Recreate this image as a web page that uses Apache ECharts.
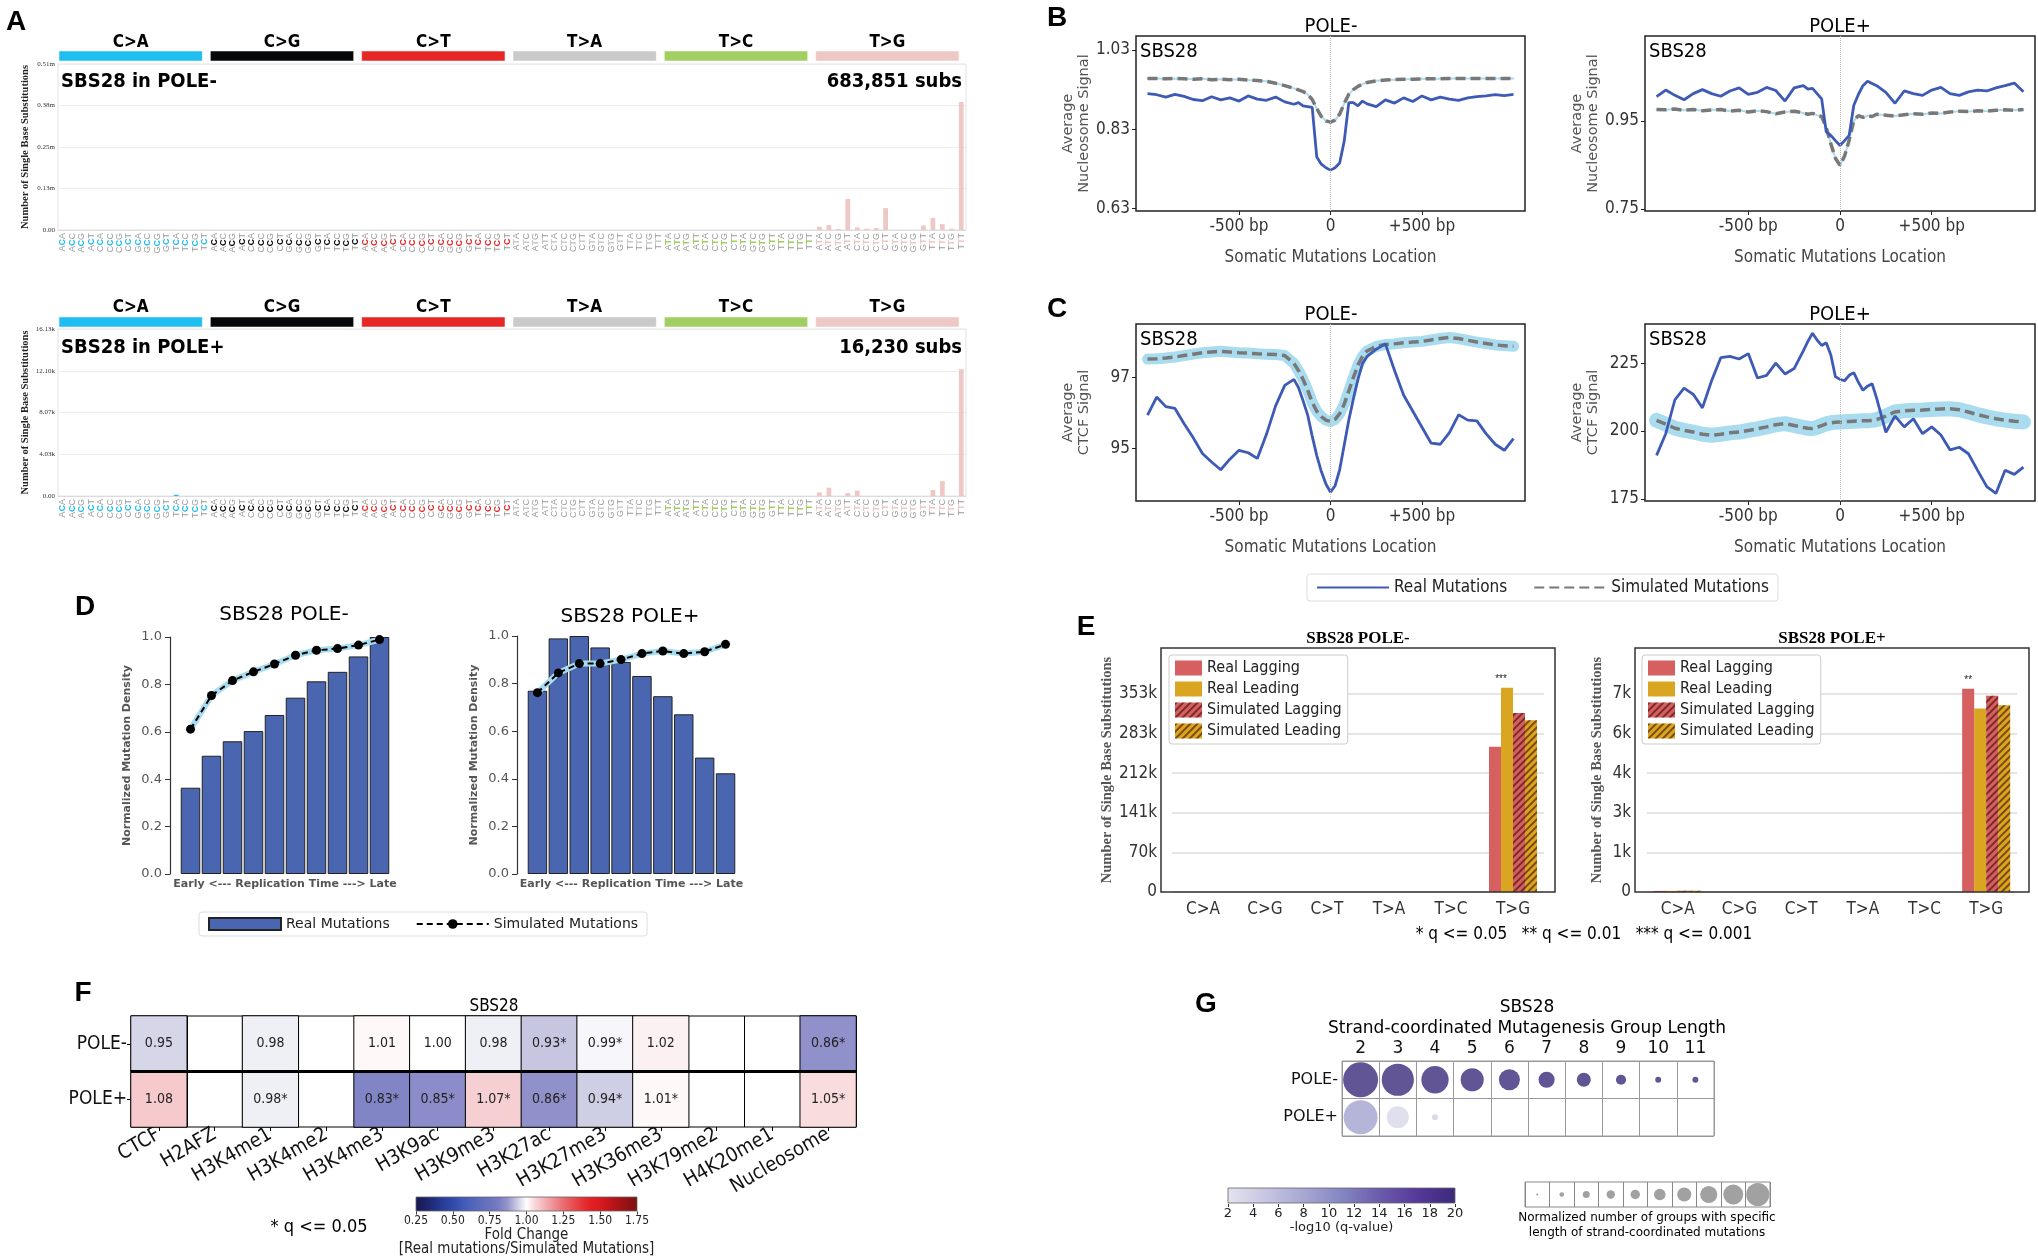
<!DOCTYPE html>
<html>
<head>
<meta charset="utf-8">
<title>SBS28 topography</title>
<script src="https://cdn.jsdelivr.net/npm/echarts@6/dist/echarts.min.js"></script>
<style>
html,body{margin:0;padding:0;background:#fff;}
#chart{width:2038px;height:1258px;}
</style>
</head>
<body>
<div id="chart"></div>
<script>
// ================= DATA =================
// Panel A : 96-channel SBS profiles
const mutTypes = ['C>A','C>G','C>T','T>A','T>C','T>G'];
const flankBases = ['A','C','G','T'];
const sbsNegTitle = 'SBS28 in POLE-';
const sbsNegTotal = '683,851 subs';
const sbsPosTitle = 'SBS28 in POLE+';
const sbsPosTotal = '16,230 subs';
const sbsNegCounts = [
  0,0,0,0,0,0,0,0,0,0,0,0,0,0,0,0,
  0,0,0,0,0,0,0,0,0,0,0,0,0,0,0,0,
  0,0,0,0,0,0,0,0,0,0,0,0,0,0,0,0,
  0,0,0,0,0,0,0,0,0,0,0,0,0,0,0,0,
  0,0,0,0,0,0,0,0,0,0,0,0,0,0,0,0,
  10000,15000,3000,95000,8000,4000,6000,67000,0,0,0,14000,37000,18000,4000,392000
];
const sbsPosCounts = [
  0,0,0,0,0,0,0,0,0,0,0,0,120,0,0,0,
  0,0,0,0,0,0,0,0,0,0,0,0,0,0,0,0,
  0,0,0,0,0,0,0,0,0,0,0,0,0,0,0,0,
  0,0,0,0,0,0,0,0,0,0,0,0,0,0,0,0,
  0,0,0,0,0,0,0,0,0,0,0,0,0,0,0,0,
  350,800,0,290,515,0,0,0,0,0,0,0,580,1450,0,12250
];
const sbsNegMax = 508000;
const sbsNegTickLabels = ['0.00','0.13m','0.25m','0.38m','0.51m'];
const sbsPosMax = 16130;
const sbsPosTickLabels = ['0.00','4.03k','8.07k','12.10k','16.13k'];

// Panels B & C : signal around mutations (bp from mutation)
const posBC = [-1000,-950,-900,-850,-800,-750,-700,-650,-600,-550,-500,-450,-400,-350,-300,-250,-200,
  -175,-150,-125,-100,-75,-50,-25,0,25,50,75,100,125,150,175,
  200,250,300,350,400,450,500,550,600,650,700,750,800,850,900,950,1000];
const nucRealNeg = [0.920,0.917,0.911,0.918,0.913,0.905,0.902,0.912,0.904,0.909,0.901,0.914,0.906,0.903,0.911,0.899,0.893,
  0.897,0.889,0.887,0.885,0.760,0.742,0.733,0.727,0.733,0.745,0.800,0.897,0.897,0.889,0.901,
  0.894,0.887,0.904,0.896,0.909,0.900,0.914,0.904,0.911,0.906,0.903,0.909,0.912,0.914,0.917,0.915,0.918];
const nucSimNeg = [0.958,0.958,0.957,0.958,0.957,0.956,0.957,0.955,0.956,0.955,0.956,0.954,0.953,0.951,0.946,0.940,0.933,
  0.929,0.925,0.918,0.905,0.882,0.862,0.851,0.848,0.853,0.868,0.895,0.918,0.930,0.938,0.944,
  0.948,0.952,0.954,0.955,0.956,0.956,0.957,0.957,0.957,0.958,0.958,0.958,0.958,0.958,0.958,0.958,0.958];
const nucRealPos = [1.005,1.020,1.008,0.998,1.012,1.021,1.012,1.006,1.018,1.025,1.010,1.015,1.026,1.019,0.995,1.025,1.030,
  1.022,1.024,1.012,1.000,0.925,0.917,0.905,0.894,0.905,0.917,0.985,1.010,1.030,1.040,1.035,
  1.030,1.015,0.990,1.018,1.012,1.008,1.020,1.026,1.012,1.008,1.016,1.020,1.018,1.025,1.030,1.036,1.016];
const nucSimPos = [0.976,0.975,0.977,0.974,0.976,0.973,0.975,0.976,0.972,0.974,0.970,0.973,0.971,0.966,0.970,0.972,0.968,
  0.965,0.967,0.963,0.960,0.935,0.898,0.865,0.849,0.870,0.906,0.950,0.962,0.958,0.962,0.960,
  0.965,0.963,0.961,0.964,0.966,0.965,0.968,0.967,0.970,0.972,0.971,0.973,0.972,0.974,0.975,0.974,0.976];
const ctcfRealNeg = [95.94,96.45,96.18,96.13,95.70,95.30,94.86,94.62,94.40,94.70,94.95,94.88,94.72,95.40,96.20,96.78,96.95,
  96.72,96.35,95.95,95.35,94.80,94.35,94.00,93.77,93.95,94.40,95.10,95.80,96.40,96.95,97.40,
  97.60,97.80,97.95,97.20,96.50,96.05,95.60,95.15,95.12,95.45,95.95,95.80,95.78,95.42,95.12,94.95,95.28];
const ctcfSimNeg = [97.52,97.53,97.55,97.58,97.62,97.66,97.70,97.72,97.74,97.72,97.70,97.69,97.67,97.66,97.65,97.62,97.40,
  97.20,96.95,96.65,96.30,96.05,95.90,95.80,95.76,95.82,95.98,96.25,96.62,97.00,97.35,97.60,
  97.75,97.88,97.93,97.95,97.98,98.00,98.02,98.06,98.10,98.13,98.10,98.05,98.00,97.96,97.92,97.90,97.88];
const ctcfRealPos = [191.0,199.0,211.5,215.8,213.5,208.5,218.5,227.0,227.5,226.5,228.5,219.5,220.5,225.0,221.0,223.0,229.5,
  233.0,236.0,233.5,231.5,232.5,228.0,220.0,219.0,218.5,220.5,221.5,218.0,215.0,216.5,217.4,
  212.0,199.5,205.5,201.5,204.5,199.0,201.5,198.5,193.0,194.0,191.6,185.5,179.5,177.0,185.5,184.0,186.7];
const ctcfSimPos = [203.9,202.5,201.0,200.2,199.6,198.8,198.4,198.8,199.3,199.6,200.2,200.8,201.5,202.3,202.7,202.0,201.3,
  201.0,200.9,201.3,202.0,202.6,203.0,203.2,203.3,203.4,203.5,203.6,203.7,203.8,203.8,203.9,
  204.2,205.5,207.0,207.4,207.6,207.7,207.9,208.1,208.2,207.8,207.0,206.0,205.2,204.5,204.0,203.6,203.3];
const bcXTicks = [-500, 0, 500];
const bcXTickLabels = ['-500 bp', '0', '+500 bp'];
const nucNegTicks = [0.63, 0.83, 1.03];
const nucNegTickLabels = ['0.63', '0.83', '1.03'];
const nucPosTicks = [0.75, 0.95];
const nucPosTickLabels = ['0.75', '0.95'];
const ctcfNegTicks = [95, 97];
const ctcfNegTickLabels = ['95', '97'];
const ctcfPosTicks = [175, 200, 225];
const ctcfPosTickLabels = ['175', '200', '225'];

// Panel D : replication timing (10 deciles, early -> late)
const repBins = ['1','2','3','4','5','6','7','8','9','10'];
const repNegReal = [0.364,0.499,0.560,0.603,0.671,0.744,0.813,0.853,0.918,1.000];
const repNegSim  = [0.611,0.753,0.816,0.853,0.886,0.923,0.944,0.951,0.966,0.989];
const repPosReal = [0.770,0.990,1.000,0.952,0.891,0.832,0.747,0.671,0.489,0.423];
const repPosSim  = [0.762,0.845,0.884,0.884,0.901,0.926,0.937,0.926,0.934,0.965];

// Panel E : replication strand asymmetry
const strandTypes = ['C>A','C>G','C>T','T>A','T>C','T>G'];
const eSeriesNames = ['Real Lagging','Real Leading','Simulated Lagging','Simulated Leading'];
const eNegRealLagging = [0,0,0,0,0,259000];
const eNegRealLeading = [0,0,0,0,0,364000];
const eNegSimLagging  = [0,0,0,0,0,319000];
const eNegSimLeading  = [0,0,0,0,0,306000];
const ePosRealLagging = [40,0,0,0,0,7285];
const ePosRealLeading = [40,0,0,0,0,6580];
const ePosSimLagging  = [45,0,0,0,0,7035];
const ePosSimLeading  = [45,0,0,0,0,6700];
const eNegSig = ['','','','','','***'];
const ePosSig = ['','','','','','**'];
const eNegTicks = [0,70650,141300,211950,282600,353250];
const eNegTickLabels = ['0','70k','141k','212k','283k','353k'];
const ePosTicks = [0,1420,2840,4260,5680,7100];
const ePosTickLabels = ['0','1k','3k','4k','6k','7k'];
const eFootnote = '* q <= 0.05   ** q <= 0.01   *** q <= 0.001';

// Panel F : histone / CTCF / nucleosome fold changes
const fMarks = ['CTCF','H2AFZ','H3K4me1','H3K4me2','H3K4me3','H3K9ac','H3K9me3','H3K27ac','H3K27me3','H3K36me3','H3K79me2','H4K20me1','Nucleosome'];
const fRows = ['POLE+','POLE-'];
const fcNeg = [0.95,null,0.98,null,1.01,1.00,0.98,0.93,0.99,1.02,null,null,0.86];
const sigNeg = [0,0,0,0,0,0,0,1,1,0,0,0,1];
const fcPos = [1.08,null,0.98,null,0.83,0.85,1.07,0.86,0.94,1.01,null,null,1.05];
const sigPos = [0,0,1,0,1,1,1,1,1,1,0,0,1];

// Panel G : strand-coordinated mutagenesis
const gLengths = ['2','3','4','5','6','7','8','9','10','11'];
const gRows = ['POLE+','POLE-'];
const gSizeNeg = [1.00,0.92,0.78,0.66,0.60,0.46,0.40,0.29,0.17,0.17];
const gQNeg    = [20,20,20,20,20,20,20,20,20,20];
const gSizePos = [0.97,0.63,0.17,null,null,null,null,null,null,null];
const gQPos    = [8.5,3.2,4.0,null,null,null,null,null,null,null];
const gSizeLegend = [0.06,0.13,0.20,0.24,0.27,0.33,0.40,0.49,0.57,0.66];

// ================= STYLE =================
const FN = "'Liberation Sans Narrow','Arial Narrow','DejaVu Sans Condensed','Liberation Sans',sans-serif";
const FS = "'Liberation Sans',Arial,sans-serif";
const FD = "'DejaVu Sans',sans-serif";
const FSERIF = "'Liberation Serif','DejaVu Serif',serif";
const typeColors = ['#1ebff0','#050708','#e62725','#cbcacb','#a1cf64','#edc8c5'];
const realBlue = '#3d5ab5';
const simGray = '#787878';
const bandBlue = '#a9dcef';
const fcColors = ['#181852','#1c2266','#20307e','#283d98','#2f4aab','#3e58b6','#4f64bb','#5e6cbd','#6a72be',
  '#787cc2','#9797cd','#cccce4','#ffffff','#f7d3d6','#f2b0b4','#ee8e92','#ea6c70','#e84f53','#e53438',
  '#e21f24','#d81a1f','#c1161a','#a81316','#911114','#7a0f10'];
const qColors = ['#e4e3f0','#c7c6e2','#a8a7d3','#8387c2','#6b5bab','#56399a','#3b2a7a'];
const eColors = ['#d65f5f','#daa520','#d65f5f','#daa520'];

// ================= HELPERS =================
function lookup(vals, labels) {
  return function (v) {
    for (let i = 0; i < vals.length; i++) {
      if (Math.abs(v - vals[i]) < 1e-6 * Math.max(1, Math.abs(vals[i]))) return labels[i];
    }
    return '';
  };
}
function txt(text, x, y, font, o) {
  o = o || {};
  const a = o.align || 'center';
  const va = o.va || 'middle';
  return { type: 'text', x: x, y: y, silent: true, z: 100, rotation: o.rot || 0,
    style: { text: text, font: font, fill: o.fill || '#000', align: a, textAlign: a,
      verticalAlign: va, textVerticalAlign: va } };
}
function gradient(colors) {
  return new echarts.graphic.LinearGradient(0, 0, 1, 0,
    colors.map((c, i) => ({ offset: i / (colors.length - 1), color: c })));
}

const contexts = [];
mutTypes.forEach(mt => flankBases.forEach(b5 => flankBases.forEach(b3 => contexts.push(b5 + '[' + mt + ']' + b3))));

// ================= GRIDS =================
const grids = [
  { left: 58, top: 64, width: 908, height: 166, show: true, borderColor: '#e2e2e2', borderWidth: 1 },   // 0 A-
  { left: 58, top: 329, width: 908, height: 167, show: true, borderColor: '#e2e2e2', borderWidth: 1 },  // 1 A+
  { left: 1136, top: 36, width: 389, height: 175, show: true, borderColor: '#222', borderWidth: 1.5 },  // 2 B-
  { left: 1645, top: 36, width: 390, height: 175, show: true, borderColor: '#222', borderWidth: 1.5 },  // 3 B+
  { left: 1136, top: 324, width: 389, height: 177, show: true, borderColor: '#222', borderWidth: 1.5 }, // 4 C-
  { left: 1645, top: 324, width: 390, height: 177, show: true, borderColor: '#222', borderWidth: 1.5 }, // 5 C+
  { left: 180, top: 637, width: 210, height: 237 },   // 6 D-
  { left: 527, top: 636, width: 209, height: 238 },   // 7 D+
  { left: 1172, top: 648, width: 372, height: 244 },  // 8 E-
  { left: 1647, top: 648, width: 370, height: 244 },  // 9 E+
  { left: 131, top: 1016, width: 725, height: 111, show: true, borderColor: '#000', borderWidth: 1 }, // 10 F
  { left: 1342, top: 1061, width: 372, height: 75, show: true, borderColor: '#999', borderWidth: 1 }, // 11 G
  { left: 1525, top: 1182, width: 245, height: 25, show: true, borderColor: '#888', borderWidth: 1 }, // 12 G size legend
  { left: 416, top: 1211, width: 221, height: 1 },    // 13 F colorbar axis
  { left: 1228, top: 1203, width: 227, height: 1 }    // 14 G colorbar axis
];

const xAxes = [], yAxes = [];
// ---- A ----
const richA = { f: { color: '#9a9a9a', fontSize: 9, fontFamily: FS } };
typeColors.forEach((c, t) => { richA['m' + t] = { color: c, fontSize: 9, fontFamily: FS, fontWeight: 'bold' }; });
[[0, sbsNegMax, sbsNegTickLabels], [1, sbsPosMax, sbsPosTickLabels]].forEach(([g, mx, labs]) => {
  xAxes.push({ type: 'category', gridIndex: g, data: contexts, axisTick: { show: false },
    axisLine: { lineStyle: { color: '#dcdcdc' } },
    axisLabel: { interval: 0, rotate: 90, margin: 3, rich: richA,
      formatter: (val, idx) => '{f|' + val[0] + '}{m' + Math.floor(idx / 16) + '|' + val[2] + '}{f|' + val[6] + '}' } });
  yAxes.push({ type: 'value', gridIndex: g, min: 0, max: mx, interval: mx / 4,
    axisLine: { show: false }, axisTick: { show: false },
    splitLine: { lineStyle: { color: '#ececec' } },
    axisLabel: { fontSize: 7, fontFamily: FSERIF, color: '#333', margin: 3,
      formatter: v => labs[Math.round(v / (mx / 4))] },
    name: 'Number of Single Base Substitutions', nameLocation: 'middle', nameRotate: 90, nameGap: 27,
    nameTextStyle: { fontFamily: FSERIF, fontWeight: 'bold', fontSize: 10.5, color: '#222' } });
});
// ---- B & C ----
const bcCfg = [
  { g: 2, min: 0.624, max: 1.065, ticks: nucNegTicks, labs: nucNegTickLabels, name: 'Average\nNucleosome Signal' },
  { g: 3, min: 0.745, max: 1.143, ticks: nucPosTicks, labs: nucPosTickLabels, name: 'Average\nNucleosome Signal' },
  { g: 4, min: 93.52, max: 98.51, ticks: ctcfNegTicks, labs: ctcfNegTickLabels, name: 'Average\nCTCF Signal' },
  { g: 5, min: 174.2, max: 239.4, ticks: ctcfPosTicks, labs: ctcfPosTickLabels, name: 'Average\nCTCF Signal' }
];
bcCfg.forEach(c => {
  xAxes.push({ type: 'value', gridIndex: c.g, min: -1063, max: 1063,
    axisLine: { show: false, onZero: false }, splitLine: { show: false },
    axisTick: { show: true, customValues: bcXTicks, length: 4, lineStyle: { color: '#222' } },
    axisLabel: { customValues: bcXTicks, formatter: lookup(bcXTicks, bcXTickLabels), fontFamily: FN, fontSize: 17, color: '#333', margin: 7 },
    name: 'Somatic Mutations Location', nameLocation: 'middle', nameGap: 38,
    nameTextStyle: { fontFamily: FN, fontSize: 17, color: '#444' } });
  yAxes.push({ type: 'value', gridIndex: c.g, min: c.min, max: c.max,
    axisLine: { show: false, onZero: false }, splitLine: { show: false },
    axisTick: { show: true, customValues: c.ticks, length: 4, lineStyle: { color: '#222' } },
    axisLabel: { customValues: c.ticks, formatter: lookup(c.ticks, c.labs), fontFamily: FN, fontSize: 17, color: '#333', margin: 6 },
    name: c.name, nameLocation: 'middle', nameRotate: 90, nameGap: 44,
    nameTextStyle: { fontFamily: FD, fontSize: 14.5, color: '#555', lineHeight: 16 } });
});
// ---- D ----
[6, 7].forEach(g => {
  xAxes.push({ type: 'category', gridIndex: g, data: repBins, axisLine: { show: false }, axisTick: { show: false },
    axisLabel: { show: false },
    name: 'Early <--- Replication Time ---> Late', nameLocation: 'middle', nameGap: 5,
    nameTextStyle: { fontFamily: FD, fontWeight: 'bold', fontSize: 11, color: '#555', verticalAlign: 'top' } });
  yAxes.push({ type: 'value', gridIndex: g, min: 0, max: 1, interval: 0.2, offset: 10,
    axisLine: { show: true, lineStyle: { color: '#333', width: 1.2 } },
    axisTick: { show: true, length: 5, lineStyle: { color: '#333' } },
    splitLine: { show: false },
    axisLabel: { fontFamily: FD, fontSize: 13, color: '#555', margin: 8, formatter: v => v.toFixed(1) },
    name: 'Normalized Mutation Density', nameLocation: 'middle', nameRotate: 90, nameGap: 37,
    nameTextStyle: { fontFamily: FD, fontWeight: 'bold', fontSize: 11, color: '#555' } });
});
// ---- E ----
[[8, 435000, eNegTicks, eNegTickLabels, 11, 46], [9, 8750, ePosTicks, ePosTickLabels, 12, 30]].forEach(([g, mx, tk, lb, off, ng]) => {
  xAxes.push({ type: 'category', gridIndex: g, data: strandTypes, axisLine: { show: false }, axisTick: { show: false },
    axisLabel: { fontFamily: FN, fontSize: 17, color: '#333', margin: 9 } });
  yAxes.push({ type: 'value', gridIndex: g, min: 0, max: mx, offset: off,
    axisLine: { show: false },
    axisTick: { show: false, customValues: tk },
    axisLabel: { customValues: tk, formatter: lookup(tk, lb), fontFamily: FN, fontSize: 17, color: '#333', margin: 4 },
    splitLine: { show: true, lineStyle: { color: '#dddddd', width: 1.5 } },
    name: 'Number of Single Base Substitutions', nameLocation: 'middle', nameRotate: 90, nameGap: ng,
    nameTextStyle: { fontFamily: FSERIF, fontWeight: 'bold', fontSize: 14.5, color: '#555' } });
});
// ---- F ----
xAxes.push({ type: 'category', gridIndex: 10, data: fMarks, axisLine: { show: false },
  axisTick: { show: true, alignWithLabel: true, length: 4, lineStyle: { color: '#000' } },
  splitLine: { show: true, interval: 0, lineStyle: { color: '#000', width: 1 } },
  axisLabel: { interval: 0, rotate: 30, fontFamily: FN, fontSize: 20, color: '#111', margin: 6 } });
yAxes.push({ type: 'category', gridIndex: 10, data: fRows, axisLine: { show: false },
  axisTick: { show: true, alignWithLabel: true, length: 4, lineStyle: { color: '#000' } },
  splitLine: { show: false },
  axisLabel: { fontFamily: FN, fontSize: 19, color: '#111', margin: 4 } });
// ---- G ----
xAxes.push({ type: 'category', gridIndex: 11, data: gLengths, position: 'top', axisLine: { show: false }, axisTick: { show: false },
  splitLine: { show: true, interval: 0, lineStyle: { color: '#999' } },
  axisLabel: { fontFamily: FD, fontSize: 17, color: '#111', margin: 4 } });
yAxes.push({ type: 'category', gridIndex: 11, data: gRows, axisLine: { show: false }, axisTick: { show: false },
  splitLine: { show: true, lineStyle: { color: '#999' } },
  axisLabel: { fontFamily: FD, fontSize: 16, color: '#111', margin: 4 } });
// ---- G size legend ----
xAxes.push({ type: 'category', gridIndex: 12, data: gLengths, axisLine: { show: false }, axisTick: { show: false },
  axisLabel: { show: false }, splitLine: { show: true, interval: 0, lineStyle: { color: '#888' } } });
yAxes.push({ type: 'category', gridIndex: 12, data: ['s'], show: false });
// ---- F colorbar axis ----
xAxes.push({ type: 'value', gridIndex: 13, min: 0.25, max: 1.75, interval: 0.25,
  axisLine: { show: false }, axisTick: { show: true, length: 3, lineStyle: { color: '#333' } }, splitLine: { show: false },
  axisLabel: { fontFamily: FN, fontSize: 12, color: '#222', margin: 3, formatter: v => v.toFixed(2) },
  name: 'Fold Change\n[Real mutations/Simulated Mutations]', nameLocation: 'middle', nameGap: 17,
  nameTextStyle: { fontFamily: FN, fontSize: 15, color: '#222', lineHeight: 14, verticalAlign: 'top' } });
yAxes.push({ type: 'value', gridIndex: 13, show: false });
// ---- G colorbar axis ----
xAxes.push({ type: 'value', gridIndex: 14, min: 2, max: 20, interval: 2,
  axisLine: { show: false }, axisTick: { show: true, length: 3, lineStyle: { color: '#333' } }, splitLine: { show: false },
  axisLabel: { fontFamily: FD, fontSize: 13, color: '#222', margin: 3 },
  name: '-log10 (q-value)', nameLocation: 'middle', nameGap: 17,
  nameTextStyle: { fontFamily: FD, fontSize: 13, color: '#222', verticalAlign: 'top' } });
yAxes.push({ type: 'value', gridIndex: 14, show: false });

// ================= SERIES =================
const series = [];
// A
[[0, sbsNegCounts], [1, sbsPosCounts]].forEach(([g, arr]) => {
  series.push({ type: 'bar', xAxisIndex: g, yAxisIndex: g, barWidth: '50%', silent: true,
    data: arr.map((v, i) => ({ value: v, itemStyle: { color: typeColors[Math.floor(i / 16)] } })) });
});
// B & C
[[2, nucRealNeg, nucSimNeg, 2], [3, nucRealPos, nucSimPos, 2], [4, ctcfRealNeg, ctcfSimNeg, 11], [5, ctcfRealPos, ctcfSimPos, 15]]
.forEach(([g, real, sim, bw]) => {
  series.push({ type: 'line', name: 'band', xAxisIndex: g, yAxisIndex: g, symbol: 'none', silent: true, z: 1,
    data: posBC.map((x, i) => [x, sim[i]]), lineStyle: { color: bandBlue, width: bw, cap: 'round', join: 'round' } });
  series.push({ type: 'line', name: 'Simulated Mutations', xAxisIndex: g, yAxisIndex: g, symbol: 'none', silent: true, z: 3,
    itemStyle: { color: simGray },
    data: posBC.map((x, i) => [x, sim[i]]), lineStyle: { color: simGray, width: 3.5, type: [10, 5] } });
  series.push({ type: 'line', name: 'Real Mutations', xAxisIndex: g, yAxisIndex: g, symbol: 'none', silent: true, z: 4,
    itemStyle: { color: realBlue },
    data: posBC.map((x, i) => [x, real[i]]), lineStyle: { color: realBlue, width: 2.8 },
    markLine: { silent: true, symbol: 'none', label: { show: false }, animation: false,
      lineStyle: { color: '#bbbbbb', type: 'dotted', width: 1 }, data: [{ xAxis: 0 }] } });
});
// D
[[6, repNegReal, repNegSim], [7, repPosReal, repPosSim]].forEach(([g, real, sim]) => {
  series.push({ type: 'bar', name: 'D:Real Mutations', xAxisIndex: g, yAxisIndex: g, data: real, barCategoryGap: '7%', silent: true,
    itemStyle: { color: '#4a66b0', borderColor: '#222', borderWidth: 1 } });
  series.push({ type: 'line', name: 'band', xAxisIndex: g, yAxisIndex: g, data: sim, symbol: 'none', silent: true, z: 3,
    lineStyle: { color: bandBlue, width: 6 } });
  series.push({ type: 'line', name: 'D:Simulated Mutations', xAxisIndex: g, yAxisIndex: g, data: sim, silent: true, z: 4,
    symbol: 'circle', symbolSize: 9, itemStyle: { color: '#000' }, lineStyle: { color: '#000', width: 2, type: [6, 4] } });
});
// E
const hatch = { symbol: 'rect', symbolSize: 1, dashArrayX: [1, 0], dashArrayY: [1.2, 2.2], rotation: -Math.PI / 4, color: 'rgba(50,0,0,0.55)' };
[[8, [eNegRealLagging, eNegRealLeading, eNegSimLagging, eNegSimLeading], eNegSig],
 [9, [ePosRealLagging, ePosRealLeading, ePosSimLagging, ePosSimLeading], ePosSig]].forEach(([g, arrs, sig]) => {
  arrs.forEach((arr, k) => {
    series.push({ type: 'bar', name: eSeriesNames[k], xAxisIndex: g, yAxisIndex: g, barWidth: 12, barGap: '0%', silent: true,
      itemStyle: k >= 2 ? { color: eColors[k], decal: hatch } : { color: eColors[k] },
      data: arr.map((v, i) => {
        const tallerReal = arrs[0][i] >= arrs[1][i] ? 0 : 1;
        if (sig[i] && k === tallerReal) {
          return { value: v, label: { show: true, position: 'top', formatter: sig[i], fontFamily: FS, fontSize: 10, color: '#222',
            offset: [k === 1 ? -6 : 0, 1] } };
        }
        return v;
      }) });
  });
});
// F heatmap
const fData = [];
fMarks.forEach((m, i) => {
  if (fcNeg[i] != null) fData.push([i, 1, fcNeg[i]]);
  if (fcPos[i] != null) fData.push([i, 0, fcPos[i]]);
});
const fSeriesIndex = series.length;
series.push({ type: 'heatmap', xAxisIndex: 10, yAxisIndex: 10, data: fData, silent: true,
  itemStyle: { borderColor: '#000', borderWidth: 1 },
  label: { show: true, fontFamily: FN, fontSize: 14, color: '#222',
    formatter: p => { const x = p.value[0], y = p.value[1]; const s = (y === 1 ? sigNeg : sigPos)[x]; return p.value[2].toFixed(2) + (s ? '*' : ''); } } });
// G dots
const gData = [];
gLengths.forEach((l, i) => {
  if (gSizeNeg[i] != null) gData.push([i, 1, gSizeNeg[i], gQNeg[i]]);
  if (gSizePos[i] != null) gData.push([i, 0, gSizePos[i], gQPos[i]]);
});
const gSeriesIndex = series.length;
series.push({ type: 'scatter', xAxisIndex: 11, yAxisIndex: 11, data: gData, silent: true,
  symbolSize: v => v[2] * 35 });
series.push({ type: 'scatter', xAxisIndex: 12, yAxisIndex: 12, silent: true,
  data: gSizeLegend.map((v, i) => [i, 0, v]), symbolSize: v => v[2] * 35, itemStyle: { color: '#8a8a8a' } });

// ================= GRAPHIC =================
const gr = [];
const LET = 'bold 28px ' + FS;
[['A', 16, 22], ['B', 1057, 18], ['C', 1057, 309], ['D', 85, 607], ['E', 1086, 627], ['F', 83, 993], ['G', 1206, 1004]]
  .forEach(([t, x, y]) => gr.push(txt(t, x, y, LET)));
// A headers
[[51, 43], [317, 308]].forEach(([by, ly]) => {
  mutTypes.forEach((mt, t) => {
    const x0 = 58 + t * (908 / 6) + 1;
    gr.push({ type: 'rect', silent: true, shape: { x: x0, y: by, width: 908 / 6 - 8, height: 10 },
      style: { fill: typeColors[t], stroke: '#fff', lineWidth: 0.5 } });
    gr.push(txt(mt, x0 + (908 / 6 - 8) / 2, ly, 'bold 17px ' + FN));
  });
});
gr.push(txt(sbsNegTitle, 61, 82, 'bold 20px ' + FN, { align: 'left' }));
gr.push(txt(sbsNegTotal, 962, 82, 'bold 20px ' + FN, { align: 'right' }));
gr.push(txt(sbsPosTitle, 61, 348, 'bold 20px ' + FN, { align: 'left' }));
gr.push(txt(sbsPosTotal, 962, 348, 'bold 20px ' + FN, { align: 'right' }));
// B & C titles
[[1331, 27, 'POLE-'], [1840, 27, 'POLE+'], [1331, 315, 'POLE-'], [1840, 315, 'POLE+']].forEach(([x, y, t]) => gr.push(txt(t, x, y, '20px ' + FN)));
[[1140, 52], [1649, 52], [1140, 340], [1649, 340]].forEach(([x, y]) => gr.push(txt('SBS28', x, y, '20px ' + FN, { align: 'left' })));
// D titles
gr.push(txt('SBS28 POLE-', 284, 615, '20px ' + FD));
gr.push(txt('SBS28 POLE+', 630, 617, '20px ' + FD));
// E titles, frames, footnote
gr.push(txt('SBS28 POLE-', 1358, 639, 'bold 17px ' + FSERIF));
gr.push(txt('SBS28 POLE+', 1832, 639, 'bold 17px ' + FSERIF));
[[1161, 394], [1635, 394]].forEach(([x, w]) => gr.push({ type: 'rect', silent: true, z: 50,
  shape: { x: x, y: 648, width: w, height: 244 }, style: { fill: 'none', stroke: '#333', lineWidth: 1.5 } }));
gr.push(txt(eFootnote, 1584, 935, '17px ' + FN));
// F
gr.push(txt('SBS28', 494, 1007, '17px ' + FN));
gr.push(txt('* q <= 0.05', 319, 1227, '18px ' + FN));
gr.push({ type: 'line', silent: true, z: 60, shape: { x1: 131, y1: 1071.5, x2: 856, y2: 1071.5 },
  style: { stroke: '#000', lineWidth: 3 } });
gr.push({ type: 'rect', silent: true, shape: { x: 416, y: 1197, width: 221, height: 14 },
  style: { fill: gradient(fcColors), stroke: '#666', lineWidth: 0.8 } });
// G
gr.push(txt('SBS28', 1527, 1008, '17px ' + FD));
gr.push(txt('Strand-coordinated Mutagenesis Group Length', 1527, 1029, '17px ' + FD));
gr.push({ type: 'rect', silent: true, shape: { x: 1228, y: 1188, width: 227, height: 15 },
  style: { fill: gradient(qColors), stroke: '#666', lineWidth: 0.8 } });
gr.push(txt('Normalized number of groups with specific', 1647, 1218, '12px ' + FD));
gr.push(txt('length of strand-coordinated mutations', 1647, 1233, '12px ' + FD));

// ================= OPTION =================
const option = {
  animation: false,
  backgroundColor: '#ffffff',
  textStyle: { fontFamily: FS },
  grid: grids,
  xAxis: xAxes,
  yAxis: yAxes,
  series: series,
  visualMap: [
    { type: 'continuous', show: false, min: 0.25, max: 1.75, seriesIndex: fSeriesIndex, dimension: 2, inRange: { color: fcColors } },
    { type: 'continuous', show: false, min: 2, max: 20, seriesIndex: gSeriesIndex, dimension: 3, inRange: { color: qColors } }
  ],
  legend: [
    { data: ['Real Mutations', 'Simulated Mutations'], left: 1307, top: 574, selectedMode: false,
      itemStyle: { opacity: 0 },
      itemWidth: 72, itemHeight: 12, itemGap: 26, padding: [5, 9], borderColor: '#dddddd', borderWidth: 1, borderRadius: 3,
      textStyle: { fontFamily: FN, fontSize: 17, color: '#222' } },
    { data: [{ name: 'D:Real Mutations', icon: 'rect' }, { name: 'D:Simulated Mutations' }], left: 199, top: 912, selectedMode: false,
      formatter: n => n.replace('D:', ''),
      itemWidth: 72, itemHeight: 12, itemGap: 26, padding: [5, 9], borderColor: '#dddddd', borderWidth: 1, borderRadius: 3,
      textStyle: { fontFamily: FD, fontSize: 14, color: '#222' } },
    { data: eSeriesNames.map(n => ({ name: n, icon: 'rect' })), orient: 'vertical', left: 1169, top: 655, selectedMode: false,
      itemWidth: 27, itemHeight: 15, itemGap: 5, padding: [5, 6], borderColor: '#cccccc', borderWidth: 1, borderRadius: 3,
      backgroundColor: '#fff', textStyle: { fontFamily: FN, fontSize: 16, color: '#222' } },
    { data: eSeriesNames.map(n => ({ name: n, icon: 'rect' })), orient: 'vertical', left: 1642, top: 655, selectedMode: false,
      itemWidth: 27, itemHeight: 15, itemGap: 5, padding: [5, 6], borderColor: '#cccccc', borderWidth: 1, borderRadius: 3,
      backgroundColor: '#fff', textStyle: { fontFamily: FN, fontSize: 16, color: '#222' } }
  ],
  graphic: { elements: gr }
};

const chart = echarts.init(document.getElementById('chart'), null, { renderer: 'canvas' });
chart.setOption(option);
</script>
</body>
</html>
